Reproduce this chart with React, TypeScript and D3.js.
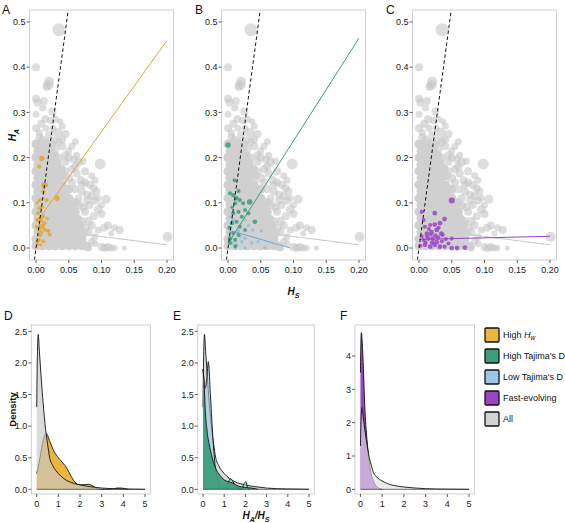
import React from "react";
import * as d3 from "d3";

const FONT = "'Liberation Sans', Arial, Helvetica, sans-serif";

// ---------- scatter data (H_S, H_A) ----------
const grayCore: [number, number][] = [
  [0.0, 0.005], [0.01, 0.005], [0.02, 0.005], [0.03, 0.005], [0.04, 0.005], [0.05, 0.005], [0.06, 0.005], [0.07, 0.005], [0.078, 0.004],
  [0.0, 0.02], [0.01, 0.02], [0.02, 0.02], [0.03, 0.02], [0.04, 0.02], [0.05, 0.02], [0.06, 0.02], [0.07, 0.02],
  [0.003, 0.035], [0.013, 0.035], [0.023, 0.035], [0.033, 0.035], [0.043, 0.035], [0.053, 0.035], [0.063, 0.035], [0.072, 0.033],
  [0.0, 0.05], [0.01, 0.05], [0.02, 0.05], [0.03, 0.05], [0.04, 0.05], [0.05, 0.05], [0.06, 0.05], [0.068, 0.05],
  [0.003, 0.065], [0.013, 0.065], [0.023, 0.065], [0.033, 0.065], [0.043, 0.065], [0.053, 0.065], [0.063, 0.065],
  [0.0, 0.08], [0.01, 0.08], [0.02, 0.08], [0.03, 0.08], [0.04, 0.08], [0.05, 0.08], [0.06, 0.08],
  [0.003, 0.095], [0.013, 0.095], [0.023, 0.095], [0.033, 0.095], [0.043, 0.095], [0.053, 0.095], [0.06, 0.1],
  [0.0, 0.11], [0.01, 0.11], [0.02, 0.11], [0.03, 0.11], [0.04, 0.11], [0.05, 0.11],
  [0.003, 0.125], [0.013, 0.125], [0.023, 0.125], [0.033, 0.125], [0.043, 0.125], [0.05, 0.13],
  [0.0, 0.14], [0.01, 0.14], [0.02, 0.14], [0.03, 0.14], [0.04, 0.14],
  [0.003, 0.155], [0.013, 0.155], [0.023, 0.155], [0.033, 0.155], [0.042, 0.16],
  [0.0, 0.17], [0.01, 0.17], [0.02, 0.17], [0.03, 0.17], [0.038, 0.175],
  [0.003, 0.185], [0.013, 0.185], [0.023, 0.185], [0.032, 0.19],
  [0.0, 0.2], [0.01, 0.2], [0.02, 0.2], [0.028, 0.205],
  [0.003, 0.215], [0.013, 0.215], [0.022, 0.218],
  [0.0, 0.23], [0.008, 0.23], [0.016, 0.232],
];

const grayOuter: [number, number, number][] = [
  [0.035, 0.483, 6.5], [0.0, 0.4, 4], [0.0, 0.33, 4], [0.002, 0.322, 4], [0.0, 0.296, 3.5],
  [0.02, 0.368, 5], [0.019, 0.36, 5], [0.016, 0.357, 4], [0.012, 0.325, 4], [0.01, 0.31, 3.5],
  [0.025, 0.302, 4], [0.0, 0.265, 4], [0.008, 0.275, 4], [0.014, 0.285, 4], [0.022, 0.282, 3.5],
  [0.033, 0.255, 5], [0.045, 0.252, 4], [0.005, 0.245, 4], [0.028, 0.238, 4], [0.04, 0.225, 4],
  [0.05, 0.215, 3.5], [0.045, 0.205, 4], [0.058, 0.195, 4], [0.065, 0.19, 4.5], [0.072, 0.192, 3.5],
  [0.055, 0.175, 4], [0.062, 0.165, 4], [0.098, 0.186, 5.5], [0.045, 0.19, 4], [0.05, 0.155, 4.5],
  [0.055, 0.145, 4], [0.068, 0.15, 4], [0.075, 0.145, 4], [0.082, 0.14, 4], [0.088, 0.132, 4],
  [0.092, 0.125, 4], [0.07, 0.125, 4], [0.078, 0.118, 4], [0.065, 0.11, 4], [0.107, 0.108, 4.5],
  [0.09, 0.105, 4], [0.082, 0.095, 4], [0.095, 0.085, 4.5], [0.1, 0.075, 4], [0.088, 0.07, 4],
  [0.075, 0.08, 4], [0.11, 0.05, 4], [0.104, 0.045, 4], [0.095, 0.04, 3.5], [0.128, 0.04, 4],
  [0.115, 0.032, 3], [0.085, 0.05, 4], [0.08, 0.035, 4], [0.09, 0.01, 3.5], [0.1, 0.002, 4],
  [0.105, 0.0, 4], [0.11, 0.002, 4], [0.115, 0.0, 3.5], [0.12, 0.0, 3], [0.135, 0.0, 2.5],
  [0.08, 0.0, 3.5], [0.201, 0.025, 5], [0.06, 0.235, 3.5], [0.03, 0.22, 4], [0.07, 0.06, 4],
  [0.072, 0.09, 4], [0.062, 0.205, 3.5], [0.04, 0.27, 3.5], [0.03, 0.285, 3.5],
  [0.06, 0.18, 4], [0.075, 0.17, 4], [0.085, 0.16, 3.5], [0.05, 0.2, 4], [0.04, 0.24, 4],
  [0.055, 0.225, 3.5], [0.02, 0.25, 4], [0.015, 0.265, 3.5], [0.035, 0.235, 4], [0.09, 0.15, 3.5],
  [0.095, 0.11, 3.5], [0.1, 0.095, 3.5], [0.12, 0.045, 3.5], [0.085, 0.115, 4], [0.078, 0.105, 4],
  [0.07, 0.14, 4], [0.06, 0.13, 4], [0.066, 0.095, 4], [0.08, 0.06, 4], [0.076, 0.045, 4],
  [0.09, 0.025, 3.5], [0.085, 0.015, 3.5], [0.045, 0.17, 4], [0.035, 0.2, 4], [0.025, 0.23, 4],
  [0.01, 0.24, 4], [0.005, 0.255, 3.5], [0.026, 0.265, 3.5], [0.037, 0.28, 3],
];

const highHwPts: [number, number, number][] = [
  [0.0087, 0.198, 4], [0.005, 0.18, 3], [0.012, 0.139, 4], [0.015, 0.139, 3.5], [0.011, 0.125, 3],
  [0.032, 0.11, 4], [0.006, 0.106, 3], [0.016, 0.106, 3], [0.006, 0.062, 4.5], [0.011, 0.07, 3],
  [0.003, 0.077, 3], [0.009, 0.047, 4.5], [0.014, 0.04, 3], [0.019, 0.038, 3], [0.021, 0.03, 3],
  [0.006, 0.028, 3], [0.004, 0.018, 3], [0.011, 0.015, 3], [0.002, 0.009, 3], [0.007, 0.007, 2.5],
  [0.002, 0.062, 3], [0.001, 0.047, 3], [0.009, 0.091, 3], [0.005, 0.088, 3], [0.002, 0.1, 2.5],
  [0.013, 0.055, 3], [0.008, 0.035, 3], [0.017, 0.065, 2.5], [0.004, 0.04, 2.5],
];

const highTajPts: [number, number, number][] = [
  [0.0, 0.228, 4], [0.01, 0.15, 3], [0.016, 0.126, 3], [0.003, 0.121, 3], [0.008, 0.117, 3],
  [0.013, 0.11, 3.5], [0.011, 0.099, 3], [0.018, 0.106, 3], [0.023, 0.099, 3], [0.033, 0.102, 4],
  [0.026, 0.084, 3], [0.031, 0.077, 3], [0.016, 0.08, 3], [0.008, 0.077, 3], [0.021, 0.069, 3],
  [0.041, 0.058, 3.5], [0.013, 0.058, 3], [0.006, 0.055, 3], [0.018, 0.047, 3], [0.026, 0.04, 3],
  [0.008, 0.033, 3], [0.016, 0.029, 3], [0.003, 0.021, 3.5], [0.011, 0.018, 3], [0.003, 0.011, 3],
  [0.011, 0.004, 3], [0.002, 0.045, 3], [0.006, 0.09, 2.5],
];

const lowTajPts: [number, number, number][] = [
  [0.004, 0.069, 2.5], [0.008, 0.062, 2.5], [0.026, 0.062, 2.5], [0.031, 0.05, 2.5], [0.038, 0.04, 2.5],
  [0.018, 0.026, 2.5], [0.026, 0.021, 2.5], [0.021, 0.014, 2.5], [0.006, 0.011, 2.5], [0.013, 0.006, 2.5],
  [0.036, 0.011, 2.5], [0.046, 0.014, 2.5], [0.011, 0.0, 2.5], [0.026, 0.0, 2.5], [0.056, 0.0, 2.5],
  [0.051, 0.038, 2.5], [0.016, 0.038, 2.5], [0.003, 0.035, 2.5],
];

const fastPts: [number, number, number][] = [
  [0.05, 0.105, 4.5], [0.024, 0.077, 3.5], [0.039, 0.064, 3.5], [0.032, 0.055, 3.5], [0.024, 0.052, 3.5],
  [0.017, 0.051, 3], [0.009, 0.047, 3], [0.007, 0.062, 3], [0.004, 0.08, 3], [0.012, 0.032, 3.5],
  [0.019, 0.035, 3.5], [0.027, 0.04, 3.5], [0.034, 0.032, 3.5], [0.036, 0.029, 3], [0.029, 0.023, 3.5],
  [0.021, 0.021, 3.5], [0.014, 0.021, 3.5], [0.007, 0.018, 3], [0.009, 0.007, 3.5], [0.017, 0.003, 3.5],
  [0.024, 0.007, 3.5], [0.032, 0.003, 3.5], [0.039, 0.003, 3], [0.05, 0.0, 3.5], [0.058, 0.0, 3.5],
  [0.07, 0.001, 3.5], [0.05, 0.021, 3], [0.004, 0.026, 3], [0.012, 0.026, 3], [0.02, 0.012, 3.5],
  [0.027, 0.013, 3.5], [0.03, 0.045, 3], [0.015, 0.042, 3], [0.041, 0.02, 3], [0.002, 0.005, 3],
  [0.045, 0.01, 3], [0.018, 0.03, 3], [0.025, 0.028, 3], [0.01, 0.012, 3], [0.035, 0.015, 3],
];

// regression lines: [[x0,y0],[x1,y1]]
const allFit: [number, number][] = [[0.0, 0.044], [0.2, 0.007]];
const highHwFit: [number, number][] = [[0.003, 0.062], [0.2, 0.459]];
const highTajFit: [number, number][] = [[0.0, 0.01], [0.2, 0.464]];
const lowTajFit: [number, number][] = [[0.003, 0.039], [0.095, 0.0]];
const fastFit: [number, number][] = [[0.0, 0.019], [0.2, 0.026]];
const refLine: [number, number][] = [[-0.0025, -0.0265], [0.0492, 0.5265]];

const xTicksS = [0, 0.05, 0.1, 0.15, 0.2];
const yTicksS = [0, 0.1, 0.2, 0.3, 0.4, 0.5];

// ---------- density data (H_A / H_S) ----------
const allDensX = [0, 0.03, 0.07, 0.12, 0.2, 0.3, 0.41, 0.5, 0.6, 0.75, 1.0, 1.25, 1.5, 2.0, 2.5, 3.0, 3.5, 4.0, 5.0];
const allDensY = [1.3, 2.1, 2.45, 2.2, 1.8, 1.35, 0.95, 0.72, 0.5, 0.37, 0.25, 0.17, 0.12, 0.07, 0.04, 0.02, 0.01, 0.006, 0.0];

const hwDensX = [0, 0.15, 0.3, 0.45, 0.6, 0.8, 1.0, 1.2, 1.4, 1.6, 1.8, 2.0, 2.2, 2.4, 2.6, 2.8, 3.0, 3.4, 3.7, 3.9, 4.2];
const hwDensY = [0.25, 0.5, 0.78, 0.88, 0.76, 0.6, 0.5, 0.42, 0.33, 0.2, 0.1, 0.07, 0.075, 0.08, 0.05, 0.01, 0.0, 0.0, 0.02, 0.02, 0.0];

const hiTajDensX = [0, 0.05, 0.1, 0.2, 0.3, 0.4, 0.5, 0.6, 0.8, 1.0, 1.2, 1.4, 1.6, 1.8, 2.0, 2.3, 2.6];
const hiTajDensY = [1.9, 1.7, 1.3, 0.9, 0.7, 0.55, 0.42, 0.33, 0.22, 0.15, 0.12, 0.1, 0.06, 0.04, 0.03, 0.02, 0.0];

const loTajDensX = [0, 0.1, 0.18, 0.25, 0.35, 0.45, 0.55, 0.7, 0.85, 1.0, 1.15, 1.3, 1.45, 1.6, 1.8, 1.95, 2.02, 2.1, 2.2];
const loTajDensY = [1.9, 1.6, 1.75, 2.02, 1.5, 0.9, 0.45, 0.15, 0.03, 0.02, 0.08, 0.17, 0.1, 0.02, 0.0, 0.1, 0.12, 0.03, 0.0];

const fastDensX = [0, 0.04, 0.1, 0.15, 0.2, 0.3, 0.4, 0.5, 0.6, 0.7, 0.8, 0.9, 1.0];
const fastDensY = [3.5, 4.7, 4.2, 3.4, 2.5, 1.5, 0.85, 0.45, 0.25, 0.12, 0.05, 0.02, 0.0];

const xTicksD = [0, 1, 2, 3, 4, 5];
const yTicksDE = [0, 0.5, 1.0, 1.5, 2.0, 2.5];
const yTicksF = [0, 1, 2, 3, 4];

const legendLabels = ["High H_w", "High Tajima's D", "Low Tajima's D", "Fast-evolving", "All"];
const COL = {
  hw: "#ECB441",
  hwPt: "#E3A531",
  hiTaj: "#3D9E79",
  loTaj: "#9DC6E6",
  fast: "#9B45C4",
  all: "#C8C8C8",
};
const legendColors = [COL.hw, COL.hiTaj, COL.loTaj, COL.fast, "#D3D3D3"];

type Pt = [number, number, number];

function ScatterPanel(props: {
  left: number;
  label: string;
  labelX: number;
  groups: { pts: Pt[]; color: string; opacity: number }[];
  fits: { line: [number, number][]; color: string }[];
  yTitle?: boolean;
  xTitle?: boolean;
}) {
  const { left, label, labelX, groups, fits } = props;
  const W = 144;
  const top = 10, bottom = 260;
  const x = d3.scaleLinear().domain([-0.01, 0.21]).range([left, left + W]);
  const y = d3.scaleLinear().domain([-0.0265, 0.5265]).range([bottom, top]);
  const clipId = "clip-" + label;
  const line = d3.line<[number, number]>().x((d) => x(d[0])).y((d) => y(d[1]));
  return (
    <g>
      <defs>
        <clipPath id={clipId}>
          <rect x={left} y={top} width={W} height={bottom - top} />
        </clipPath>
      </defs>
      <g clipPath={`url(#${clipId})`}>
        <path d={line(allFit) || ""} stroke="#c6c6c6" strokeWidth={1} fill="none" />
        {grayOuter.map((p, i) => (
          <circle key={"o" + i} cx={x(p[0])} cy={y(p[1])} r={p[2]} fill="#c6c6c6" fillOpacity={0.6} />
        ))}
        {grayCore.map((p, i) => (
          <circle key={"c" + i} cx={x(p[0])} cy={y(p[1])} r={4.6} fill="#d0d0d0" fillOpacity={1} />
        ))}
        {groups.map((g, gi) =>
          g.pts.map((p, i) => (
            <circle key={gi + "-" + i} cx={x(p[0])} cy={y(p[1])} r={p[2] * 0.68} fill={g.color} fillOpacity={g.opacity} />
          ))
        )}
        {fits.map((f, i) => (
          <path key={"f" + i} d={line(f.line) || ""} stroke={f.color} strokeWidth={1} fill="none" />
        ))}
        <path d={line(refLine) || ""} stroke="#111" strokeWidth={1} strokeDasharray="3.5,2.5" fill="none" />
      </g>
      <rect x={left} y={top} width={W} height={bottom - top} fill="none" stroke="#cfcfcf" strokeWidth={1} />
      {xTicksS.map((t) => (
        <g key={"xt" + t}>
          <line x1={x(t)} x2={x(t)} y1={bottom} y2={bottom + 3} stroke="#333" strokeWidth={0.8} />
          <text x={x(t)} y={bottom + 13} textAnchor="middle" fontSize={9} fill="#222" fontFamily={FONT}>
            {d3.format(".2f")(t)}
          </text>
        </g>
      ))}
      {yTicksS.map((t) => (
        <g key={"yt" + t}>
          <line x1={left - 3} x2={left} y1={y(t)} y2={y(t)} stroke="#333" strokeWidth={0.8} />
          <text x={left - 4} y={y(t) + 3.2} textAnchor="end" fontSize={9} fill="#222" fontFamily={FONT}>
            {d3.format(".1f")(t)}
          </text>
        </g>
      ))}
      <text x={labelX} y={14} fontSize={12} fill="#111" fontFamily={FONT}>
        {label}
      </text>
      {props.yTitle && (
        <text transform={`translate(16,${(top + bottom) / 2}) rotate(-90)`} textAnchor="middle" fontSize={10} fontWeight="bold" fontStyle="italic" fill="#111" fontFamily={FONT}>
          H<tspan fontSize={7} dy={2.5}>A</tspan>
        </text>
      )}
      {props.xTitle && (
        <text x={left + W / 2} y={bottom + 35} textAnchor="middle" fontSize={10} fontWeight="bold" fontStyle="italic" fill="#111" fontFamily={FONT}>
          H<tspan fontSize={7} dy={2.5}>S</tspan>
        </text>
      )}
    </g>
  );
}

type Dens = { xs: number[]; ys: number[]; fill: string; opacity: number };

function DensityPanel(props: {
  left: number;
  right: number;
  label: string;
  labelX: number;
  yMax: number;
  yMin: number;
  yTicks: number[];
  yFmt: string;
  layers: Dens[];
  yTitle?: boolean;
  xTitle?: boolean;
}) {
  const { left, right, label, labelX, layers } = props;
  const top = 325, bottom = 494;
  const x = d3.scaleLinear().domain([-0.25, 5.25]).range([left, right]);
  const y = d3.scaleLinear().domain([props.yMin, props.yMax]).range([bottom, top]);
  const area = d3
    .area<[number, number]>()
    .x((d) => x(d[0]))
    .y0(y(0))
    .y1((d) => y(d[1]))
    .curve(d3.curveMonotoneX);
  const line = d3
    .line<[number, number]>()
    .x((d) => x(d[0]))
    .y((d) => y(d[1]))
    .curve(d3.curveMonotoneX);
  return (
    <g>
      {layers.map((l, i) => {
        const pts: [number, number][] = l.xs.map((v, k) => [v, l.ys[k]]);
        return (
          <g key={i}>
            <path d={area(pts) || ""} fill={l.fill} fillOpacity={l.opacity} stroke="none" />
            <path d={line(pts) || ""} fill="none" stroke="#111" strokeWidth={0.9} />
          </g>
        );
      })}
      <line x1={x(0)} x2={x(5)} y1={y(0)} y2={y(0)} stroke="#333" strokeWidth={0.7} />
      <rect x={left} y={top} width={right - left} height={bottom - top} fill="none" stroke="#cfcfcf" strokeWidth={1} />
      {xTicksD.map((t) => (
        <g key={"xt" + t}>
          <line x1={x(t)} x2={x(t)} y1={bottom} y2={bottom + 3} stroke="#333" strokeWidth={0.8} />
          <text x={x(t)} y={bottom + 13} textAnchor="middle" fontSize={9} fill="#222" fontFamily={FONT}>
            {t}
          </text>
        </g>
      ))}
      {props.yTicks.map((t) => (
        <g key={"yt" + t}>
          <line x1={left - 3} x2={left} y1={y(t)} y2={y(t)} stroke="#333" strokeWidth={0.8} />
          <text x={left - 4} y={y(t) + 3.2} textAnchor="end" fontSize={9} fill="#222" fontFamily={FONT}>
            {d3.format(props.yFmt)(t)}
          </text>
        </g>
      ))}
      <text x={labelX} y={320} fontSize={12} fill="#111" fontFamily={FONT}>
        {label}
      </text>
      {props.yTitle && (
        <text transform={`translate(16,${(top + bottom) / 2}) rotate(-90)`} textAnchor="middle" fontSize={9.5} fontWeight="bold" fill="#111" fontFamily={FONT}>
          Density
        </text>
      )}
      {props.xTitle && (
        <text x={(left + right) / 2} y={bottom + 25} textAnchor="middle" fontSize={10} fontWeight="bold" fontStyle="italic" fill="#111" fontFamily={FONT}>
          H<tspan fontSize={7} dy={2.5}>A</tspan>
          <tspan dy={-2.5}>/H</tspan>
          <tspan fontSize={7} dy={2.5}>S</tspan>
        </text>
      )}
    </g>
  );
}

function Legend() {
  const x0 = 485;
  const rowY = d3.scalePoint<string>().domain(legendLabels).range([335, 419]);
  return (
    <g>
      {legendLabels.map((lab, i) => {
        const cy = rowY(lab) || 0;
        const isHw = lab.startsWith("High H_");
        return (
          <g key={lab}>
            <rect x={x0} y={cy - 7} width={14} height={14} rx={1} fill={legendColors[i]} stroke="#111" strokeWidth={1.3} />
            <text x={x0 + 18} y={cy + 3} fontSize={9} fill="#111" fontFamily={FONT}>
              {isHw ? (
                <>
                  High <tspan fontStyle="italic">H</tspan>
                  <tspan fontStyle="italic" fontSize={6.5} dy={2}>w</tspan>
                </>
              ) : (
                lab
              )}
            </text>
          </g>
        );
      })}
    </g>
  );
}

export default function App() {
  return (
    <svg width={565} height={523} style={{ position: "absolute", left: 0, top: 0, background: "#fff" }}>
      <rect width={565} height={523} fill="#fff" />
      <ScatterPanel
        left={29.5}
        label="A"
        labelX={2}
        yTitle
        groups={[{ pts: highHwPts, color: COL.hwPt, opacity: 0.85 }]}
        fits={[{ line: highHwFit, color: "#E3A531" }]}
      />
      <ScatterPanel
        left={221.5}
        label="B"
        labelX={195}
        xTitle
        groups={[
          { pts: lowTajPts, color: "#8CBDE0", opacity: 0.85 },
          { pts: highTajPts, color: COL.hiTaj, opacity: 0.85 },
        ]}
        fits={[
          { line: lowTajFit, color: "#6FA8D6" },
          { line: highTajFit, color: COL.hiTaj },
        ]}
      />
      <ScatterPanel
        left={412.5}
        label="C"
        labelX={386}
        groups={[{ pts: fastPts, color: COL.fast, opacity: 0.85 }]}
        fits={[{ line: fastFit, color: COL.fast }]}
      />
      <DensityPanel
        left={31.3}
        right={150.4}
        label="D"
        labelX={4}
        yMin={-0.074}
        yMax={2.6}
        yTicks={yTicksDE}
        yFmt=".1f"
        yTitle
        layers={[
          { xs: hwDensX, ys: hwDensY, fill: COL.hw, opacity: 1 },
          { xs: allDensX, ys: allDensY, fill: COL.all, opacity: 0.65 },
        ]}
      />
      <DensityPanel
        left={197.7}
        right={314.3}
        label="E"
        labelX={173}
        yMin={-0.074}
        yMax={2.6}
        yTicks={yTicksDE}
        yFmt=".1f"
        xTitle
        layers={[
          { xs: allDensX, ys: allDensY, fill: "#dcdcdc", opacity: 1 },
          { xs: loTajDensX, ys: loTajDensY, fill: COL.loTaj, opacity: 0.6 },
          { xs: hiTajDensX, ys: hiTajDensY, fill: COL.hiTaj, opacity: 0.95 },
        ]}
      />
      <DensityPanel
        left={355}
        right={474.5}
        label="F"
        labelX={340}
        yMin={-0.14}
        yMax={4.93}
        yTicks={yTicksF}
        yFmt="d"
        layers={[
          { xs: fastDensX, ys: fastDensY, fill: COL.fast, opacity: 1 },
          { xs: allDensX, ys: allDensY, fill: "#e2e2e2", opacity: 0.65 },
        ]}
      />
      <Legend />
    </svg>
  );
}
